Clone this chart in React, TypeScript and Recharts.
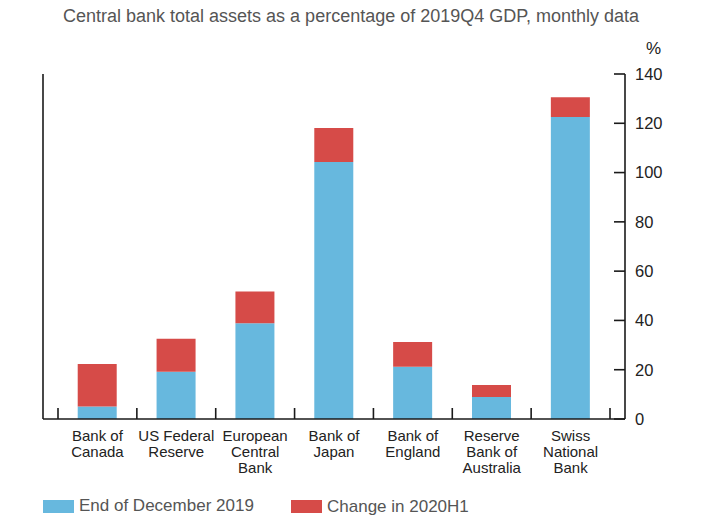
import React from 'react';
import { BarChart, Bar, XAxis, YAxis } from 'recharts';

// values, % of 2019Q4 GDP
const banks = [
  'Bank of\nCanada',
  'US Federal\nReserve',
  'European\nCentral\nBank',
  'Bank of\nJapan',
  'Bank of\nEngland',
  'Reserve\nBank of\nAustralia',
  'Swiss\nNational\nBank',
];
const endDec2019 = [5.1, 19.2, 38.9, 104.3, 21.2, 8.9, 122.6];
const change2020H1 = [17.2, 13.4, 12.8, 13.8, 10.0, 4.9, 8.0];
const yTicks = [0, 20, 40, 60, 80, 100, 120, 140];

const BLUE = '#67b8de';
const RED = '#d64b48';
const AXIS = '#1a1a1a';
const FONT = '"Liberation Sans", Arial, sans-serif';

const data = banks.map((name, i) => ({
  name,
  dec2019: endDec2019[i],
  change: change2020H1[i],
}));

// category labels + separator ticks between categories
const XTick = (props: any) => {
  const { x, y, payload, index } = props;
  const half = payload.offset || 39.3;
  const lines = String(payload.value).split('\n');
  return (
    <g>
      <line x1={x - half} x2={x - half} y1={y} y2={y - 11} stroke="#1a1a1a" strokeWidth={1.6} />
      {index === banks.length - 1 ? (
        <line x1={x + half} x2={x + half} y1={y} y2={y - 11} stroke="#1a1a1a" strokeWidth={1.6} />
      ) : null}
      <text x={x} y={y + 22} textAnchor="middle" fontSize={15} fill="#222" fontFamily={FONT}>
        {lines.map((l, i) => (
          <tspan key={i} x={x} dy={i === 0 ? 0 : 16}>
            {l}
          </tspan>
        ))}
      </text>
    </g>
  );
};

const LegendItem = ({ color, label }: { color: string; label: string }) => (
  <span style={{ display: 'inline-flex', alignItems: 'center' }}>
    <span style={{ width: 31, height: 13, background: color, marginRight: 5 }} />
    <span>{label}</span>
  </span>
);

export default function App() {
  return (
    <div
      style={{
        position: 'absolute',
        left: 0,
        top: 0,
        width: 716,
        height: 529,
        background: '#fff',
        fontFamily: FONT,
      }}
    >
      <div
        style={{
          position: 'absolute',
          top: 6,
          left: 0,
          width: 702,
          textAlign: 'center',
          fontSize: 18,
          color: '#555',
          whiteSpace: 'nowrap',
        }}
      >
        Central bank total assets as a percentage of 2019Q4 GDP, monthly data
      </div>
      <div style={{ position: 'absolute', top: 39, left: 646, fontSize: 17, color: '#222' }}>%</div>

      <BarChart
        width={716}
        height={529}
        data={data}
        margin={{ top: 74, right: 0, bottom: 0, left: 43 }}
        barCategoryGap="25%"
      >
        <XAxis
          dataKey="name"
          interval={0}
          height={110}
          padding={{ left: 15, right: 15 }}
          tickSize={0}
          tickMargin={0}
          tickLine={false}
          axisLine={{ stroke: AXIS, strokeWidth: 1.6 }}
          tick={XTick}
        />
        {/* left frame: inward ticks only */}
        <YAxis
          yAxisId="left"
          orientation="left"
          width={1}
          mirror
          type="number"
          domain={[0, 140]}
          allowDataOverflow
          ticks={yTicks}
          tickSize={11}
          tick={false}
          stroke={AXIS}
          tickLine={{ stroke: AXIS, strokeWidth: 1.6 }}
          axisLine={{ stroke: AXIS, strokeWidth: 1.6 }}
        />
        {/* right axis: inward ticks, labels outside */}
        <YAxis
          yAxisId="right"
          orientation="right"
          width={91}
          domain={[0, 140]}
          ticks={yTicks}
          tickSize={-11}
          tickMargin={21}
          stroke={AXIS}
          tickLine={{ stroke: AXIS, strokeWidth: 1.6 }}
          axisLine={{ stroke: AXIS, strokeWidth: 1.6 }}
          tick={{ fontSize: 16.5, fill: '#222', fontFamily: FONT }}
        />
        <Bar yAxisId="right" dataKey="dec2019" stackId="a" fill={BLUE} isAnimationActive={false} />
        <Bar yAxisId="right" dataKey="change" stackId="a" fill={RED} isAnimationActive={false} />
      </BarChart>

      <div
        style={{
          position: 'absolute',
          top: 496,
          left: 43,
          fontSize: 17,
          color: '#555',
          display: 'flex',
        }}
      >
        <span style={{ width: 248 }}>
          <LegendItem color={BLUE} label="End of December 2019" />
        </span>
        <LegendItem color={RED} label="Change in 2020H1" />
      </div>
    </div>
  );
}
